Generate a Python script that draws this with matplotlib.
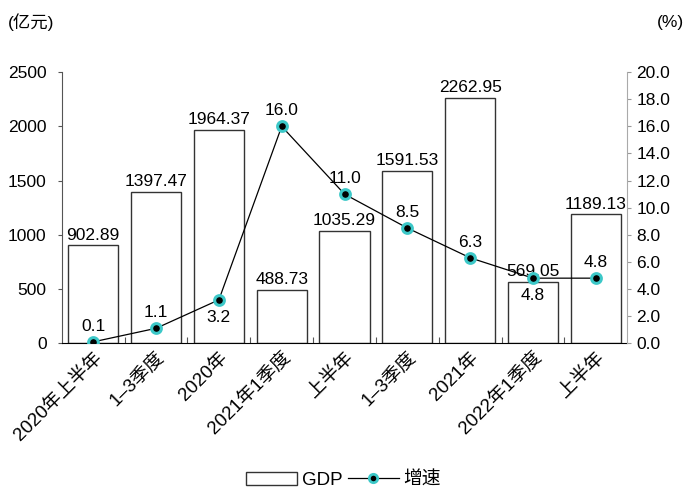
import matplotlib
matplotlib.use("Agg")
import matplotlib.pyplot as plt
from matplotlib.lines import Line2D
from matplotlib.patches import Patch

plt.rcParams['font.family'] = ['Liberation Sans', 'Noto Sans CJK SC']
plt.rcParams['font.size'] = 12.5

categories = ["2020年上半年", "1–3季度", "2020年", "2021年1季度", "上半年",
              "1–3季度", "2021年", "2022年1季度", "上半年"]
gdp = [902.89, 1397.47, 1964.37, 488.73, 1035.29, 1591.53, 2262.95, 569.05, 1189.13]
growth = [0.1, 1.1, 3.2, 16.0, 11.0, 8.5, 6.3, 4.8, 4.8]
growth_below = [False, False, True, False, False, False, False, True, False]

fig = plt.figure(figsize=(6.87, 4.91), dpi=100)
ax = fig.add_axes([0.090, 0.301, 0.823, 0.552])
ax2 = ax.twinx()

x = list(range(len(categories)))
ax.bar(x, gdp, width=0.8, facecolor="white", edgecolor="#333333", linewidth=1.0)
for xi, v in zip(x, gdp):
    ax.annotate(f"{v:.2f}", (xi, v), xytext=(0, 2), textcoords="offset points",
                ha="center", va="bottom")

ax.set_xlim(-0.5, len(categories) - 0.5)
ax.set_ylim(0, 2500)
ax.set_yticks(range(0, 2501, 500))
ax.set_xticks([i + 0.5 for i in x[:-1]], minor=False)
ax.set_xticklabels([])
ax.set_xticks(x, minor=True)
ax.set_xticklabels(categories, minor=True, rotation=45, ha="right",
                   rotation_mode="anchor", fontsize=13.5)
ax.tick_params(axis="x", which="major", direction="in", length=4, color="#555555")
ax.tick_params(axis="x", which="minor", length=0, pad=4)
ax.tick_params(axis="y", direction="out", length=3, color="#555555", pad=8)
ax.spines["top"].set_visible(False)
ax.spines["right"].set_visible(False)
ax.spines["left"].set_color("#555555")

ax2.plot(x, growth, color="black", linewidth=0.9, marker="o", markersize=7,
         markerfacecolor="black", markeredgecolor="#3cc8c8", markeredgewidth=2.2,
         zorder=5)
ax2.set_ylim(0, 20)
ax2.set_yticks([i * 2 for i in range(11)])
ax2.set_yticklabels([f"{i * 2:.1f}" for i in range(11)])
ax2.tick_params(axis="y", direction="out", length=3, color="#999999")
ax2.spines["top"].set_visible(False)
ax2.spines["left"].set_visible(False)
ax2.spines["bottom"].set_visible(False)
ax2.spines["right"].set_color("#aaaaaa")
for xi, v, below in zip(x, growth, growth_below):
    if below:
        ax2.annotate(f"{v:.1f}", (xi, v), xytext=(0, -7), textcoords="offset points",
                     ha="center", va="top")
    else:
        ax2.annotate(f"{v:.1f}", (xi, v), xytext=(0, 6), textcoords="offset points",
                     ha="center", va="bottom")

fig.text(0.012, 0.955, "(亿元)", ha="left", va="center")
fig.text(0.995, 0.955, "(%)", ha="right", va="center")

handles = [Patch(facecolor="white", edgecolor="#333333", linewidth=1.0),
           Line2D([0], [0], color="black", linewidth=0.9, marker="o", markersize=6,
                  markerfacecolor="black", markeredgecolor="#3cc8c8", markeredgewidth=2)]
fig.legend(handles, ["GDP", "增速"], loc="lower center", bbox_to_anchor=(0.5, -0.03),
           ncol=2, frameon=False, fontsize=13.5, handlelength=2.7, handleheight=0.65,
           columnspacing=0.3, handletextpad=0.25)

fig.savefig("out.png", dpi=100)
